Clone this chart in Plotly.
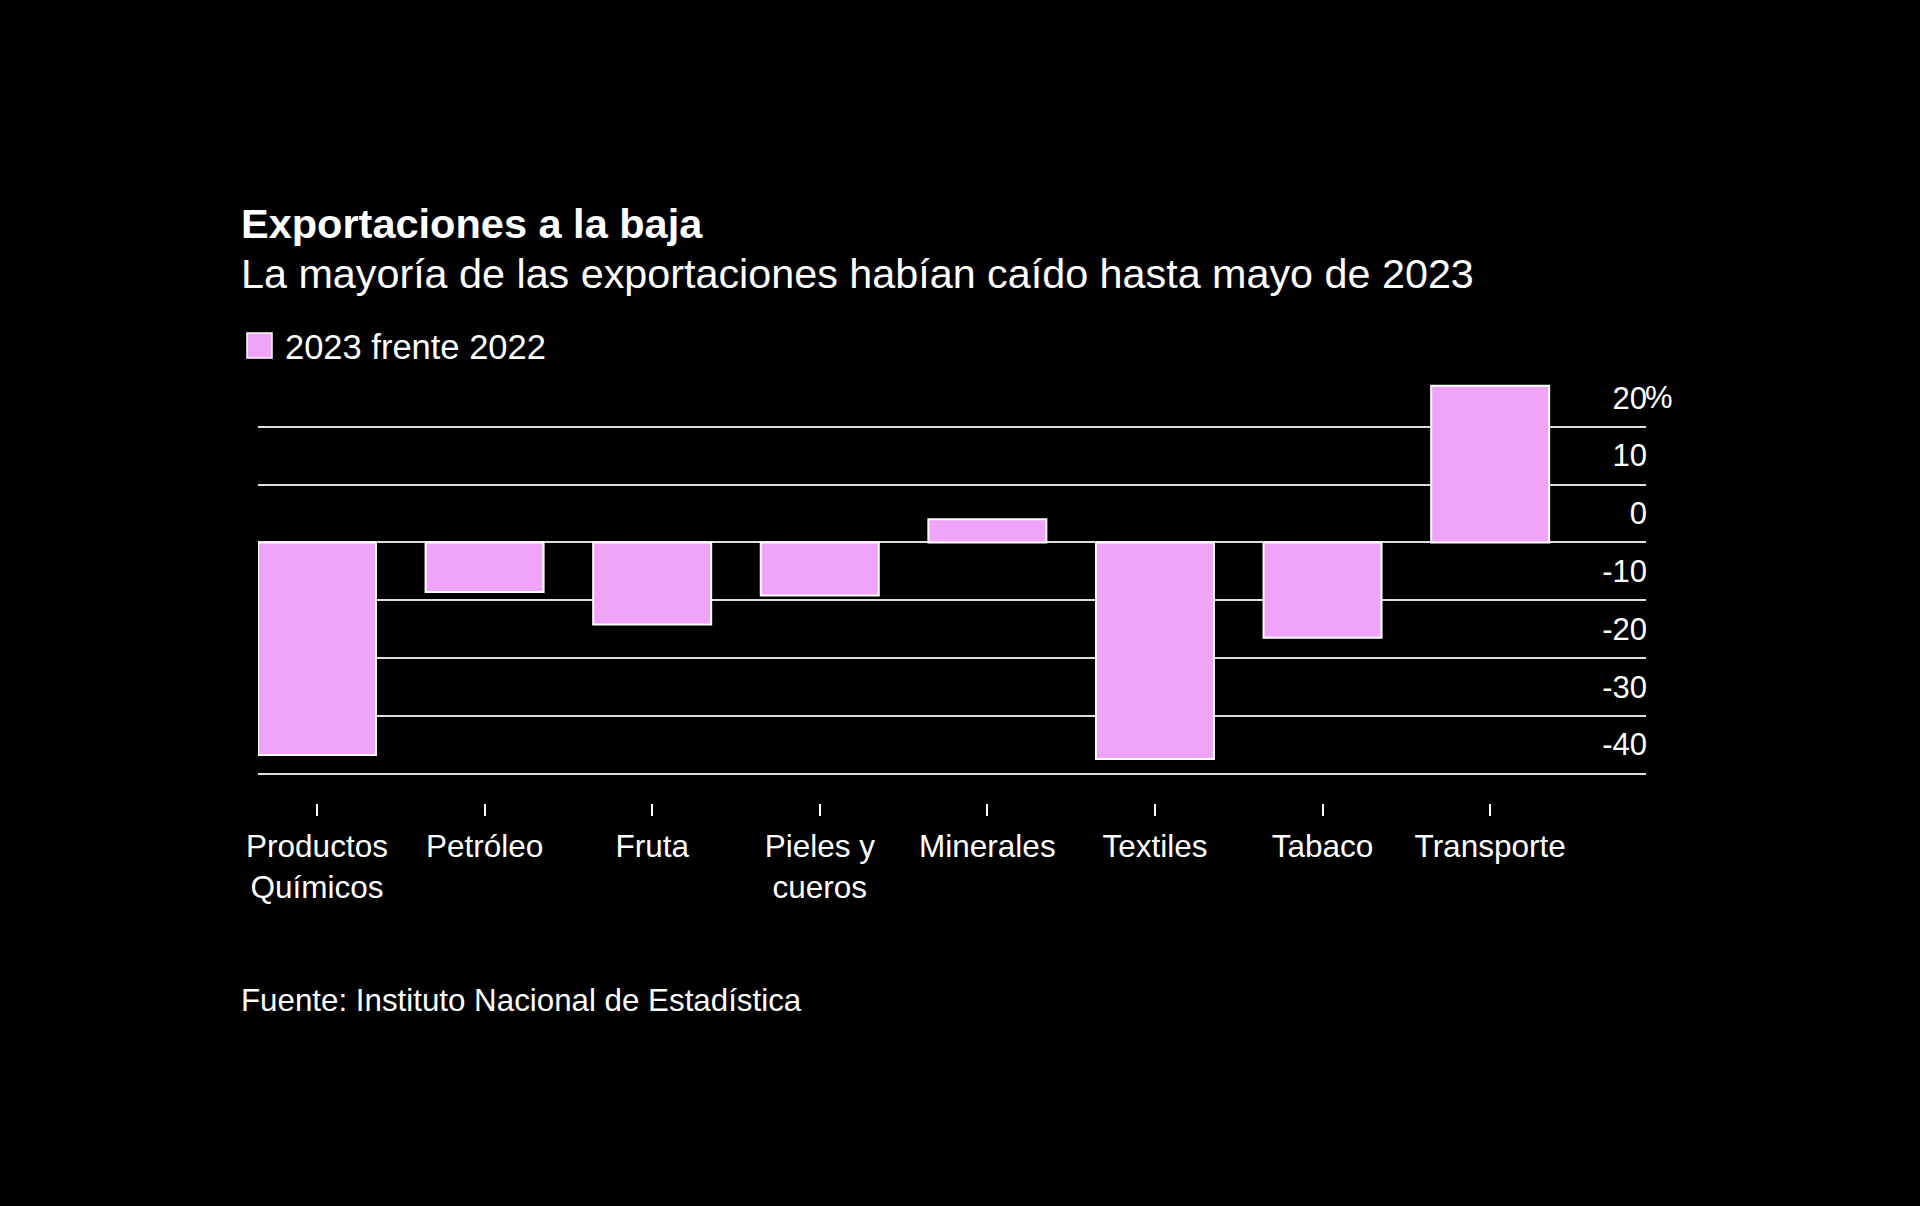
import plotly.graph_objects as go

# ---- data ----
categories = ["Productos<br>Químicos", "Petróleo", "Fruta", "Pieles y<br>cueros",
              "Minerales", "Textiles", "Tabaco", "Transporte"]
values = [-36.8, -8.6, -14.2, -9.2, 4.0, -37.5, -16.5, 27.1]
series_name = "2023 frente 2022"
y_tickvals = [-40, -30, -20, -10, 0, 10, 20]
y_ticktext = ["-40", "-30", "-20", "-10", "0", "10", "20"]

title = "Exportaciones a la baja"
subtitle = "La mayoría de las exportaciones habían caído hasta mayo de 2023"
source = "Fuente: Instituto Nacional de Estadística"

# ---- layout geometry (pixels) ----
W, H = 1920, 1206
L, R, T, B = 258, 1646, 380, 803
FONT = "Liberation Sans, Arial, sans-serif"
BAR = "#EFA3F9"


def px(x):
    return (x - L) / (R - L)


def py(y):
    return (B - y) / (B - T)


fig = go.Figure(
    go.Bar(
        x=list(range(len(categories))),
        y=values,
        name=series_name,
        marker=dict(color=BAR, line=dict(color="#ffffff", width=2)),
        showlegend=False,
        hoverinfo="y",
    )
)

fig.update_layout(
    width=W, height=H,
    margin=dict(l=L, r=W - R, t=T, b=H - B, pad=0),
    paper_bgcolor="#000000",
    plot_bgcolor="#000000",
    bargap=0.296,
    font=dict(family=FONT, color="#ffffff"),
    xaxis=dict(
        range=[-0.352, 7.93],
        tickvals=list(range(len(categories))),
        ticktext=categories,
        showgrid=False, zeroline=False, showline=False,
        ticks="outside", ticklen=12, tickwidth=2, tickcolor="#ffffff",
        ticklabelstandoff=3,
        tickfont=dict(size=31.5, color="#ffffff", family=FONT),
    ),
    yaxis=dict(
        range=[-45.1, 28.1],
        tickvals=y_tickvals,
        ticktext=y_ticktext,
        side="right",
        ticklabelposition="inside",
        ticklabelshift=-29,
        ticklabelstandoff=-4,
        ticks="",
        showgrid=True, gridcolor="#dedede", gridwidth=2,
        zeroline=False, showline=False,
        tickfont=dict(size=31, color="#ffffff", family=FONT),
    ),
    annotations=[
        dict(text="<b>" + title + "</b>", x=px(239), y=py(224), xref="paper", yref="paper",
             xanchor="left", yanchor="middle", showarrow=False,
             font=dict(size=41.5, color="#ffffff", family=FONT)),
        dict(text=subtitle, x=px(238.5), y=py(274), xref="paper", yref="paper",
             xanchor="left", yanchor="middle", showarrow=False,
             font=dict(size=41.3, color="#ffffff", family=FONT)),
        dict(text=series_name, x=px(283), y=py(347), xref="paper", yref="paper",
             xanchor="left", yanchor="middle", showarrow=False,
             font=dict(size=34.5, color="#ffffff", family=FONT)),
        dict(text="%", x=1, y=20, xref="paper", yref="y", yshift=29, xshift=-3,
             xanchor="left", yanchor="middle", showarrow=False,
             font=dict(size=31, color="#ffffff", family=FONT)),
        dict(text=source, x=px(239), y=py(1000), xref="paper", yref="paper",
             xanchor="left", yanchor="middle", showarrow=False,
             font=dict(size=31.3, color="#ffffff", family=FONT)),
    ],
    shapes=[
        dict(type="rect", xref="paper", yref="paper",
             x0=px(247), x1=px(272), y0=py(358), y1=py(333),
             fillcolor=BAR, line=dict(color="#ffffff", width=1.5)),
    ],
)

fig.write_html(
    "out.html",
    config={"displayModeBar": False},
    post_script="document.body.style.margin='0';document.body.style.backgroundColor='#000';",
)
